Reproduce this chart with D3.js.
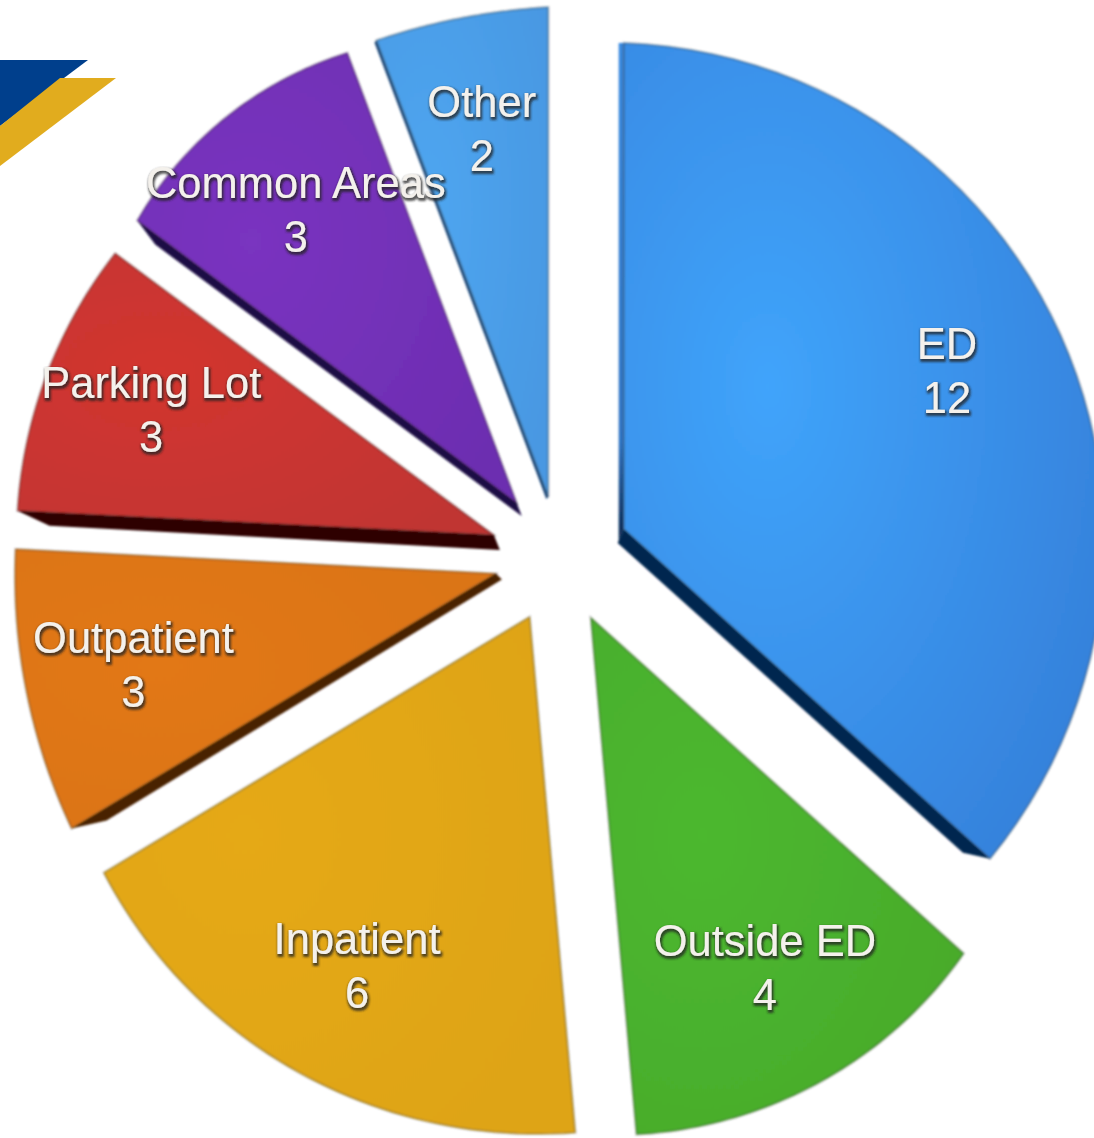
<html>
<head>
  <style>
    html,body{margin:0;padding:0;background:#fff;overflow:hidden}
    .label text{fill:#f4f1ec;font-family:'Liberation Sans',Arial,sans-serif;font-size:43.5px;text-anchor:middle}
    .face{stroke:#000;stroke-opacity:.3;stroke-width:2px}
  </style>
</head>
<body>
<div id="pie"></div>
<script src="https://d3js.org/d3.v7.min.js"></script>
<script>
// chart data
var categories = ['ED', 'Outside ED', 'Inpatient', 'Outpatient', 'Parking Lot', 'Common Areas', 'Other'];
var counts     = [12, 4, 6, 3, 3, 3, 2];

// slice colours: bright middle, edge
var inner = ['#40a4fb', '#4cb82e', '#e5a912', '#e27812', '#d2362f', '#7a34c0', '#4fa6f0'];
var outer = ['#3580da', '#49aa2c', '#dea416', '#da7414', '#c03432', '#6c2db0', '#4898e2'];

// each slice is pulled out a bit differently in the picture
var explode = [70, 67, 66, 66, 70, 70, 62];
// the source is drawn in perspective, so radius changes along the rim: start, middle, end
var rimStart = [486, 502, 518, 495, 477, 473, 488];
var rimMid   = [478, 518, 511, 484, 475, 483, 487];
var rimEnd   = [493, 519, 497, 481, 472, 481, 490];
// perspective also shifts the boundaries between slices, degrees
var boundaryShift = [0, 1.1, 0.4, -1, 0.2, 1.2, 1.2, 0];
var labelR   = [362, 391, 390, 375, 370, 380, 378];
var labelNudge = [[-6, -11], [-5, 0], [6, 0], [2, 0], [7, -7], [14, 3], [5, 0]];

// visible sides of the slices
var sides = [
  {slice: 0, edge: 'end',   tip: [-6, 14], rim: [-27, -6], fill: '#06264f'},
  {slice: 0, edge: 'start', tip: [-5, 12], rim: [-5, 0],   fill: 'url(#edLeft)'},
  {slice: 3, edge: 'start', tip: [6, 6],   rim: [35, -8],  fill: '#4a2206'},
  {slice: 4, edge: 'start', tip: [6, 15],  rim: [32, 15],  fill: '#2e0404'},
  {slice: 5, edge: 'start', tip: [5, 13],  rim: [18, 24],  fill: '#1d0a45'},
  {slice: 6, edge: 'start', tip: [-2, 2],  rim: [-2, 2],   fill: '#1f4c80'}
];

var width = 1094, height = 1138, cx = 560, cy = 558;

var svg = d3.select('#pie').append('svg')
  .attr('width', width)
  .attr('height', height);

var defs = svg.append('defs');

defs.append('filter').attr('id', 'soft')
  .append('feGaussianBlur').attr('stdDeviation', 0.9);

// pale letters with a dark halo and a shadow below
var shadow = defs.append('filter').attr('id', 'textShadow')
  .attr('x', '-10%').attr('y', '-15%').attr('width', '120%').attr('height', '135%');
shadow.append('feMorphology').attr('in', 'SourceAlpha').attr('operator', 'dilate').attr('radius', 0.8).attr('result', 'd');
shadow.append('feGaussianBlur').attr('in', 'd').attr('stdDeviation', 1).attr('result', 'b');
shadow.append('feOffset').attr('in', 'b').attr('dx', 1).attr('dy', 1.5).attr('result', 'o');
shadow.append('feFlood').attr('flood-color', '#222').attr('flood-opacity', 0.75);
shadow.append('feComposite').attr('in2', 'o').attr('operator', 'in').attr('result', 's');
var merge = shadow.append('feMerge');
merge.append('feMergeNode').attr('in', 's');
merge.append('feMergeNode').attr('in', 'SourceGraphic');

categories.forEach(function (c, i) {
  var g = defs.append('radialGradient')
    .attr('id', 'grad' + i)
    .attr('cx', 0.3).attr('cy', 0.42).attr('r', 0.8);
  g.append('stop').attr('offset', '0%').attr('stop-color', inner[i]);
  g.append('stop').attr('offset', '100%').attr('stop-color', outer[i]);
});

var edLeft = defs.append('linearGradient').attr('id', 'edLeft')
  .attr('x1', 0).attr('y1', 0).attr('x2', 0).attr('y2', 1);
edLeft.append('stop').attr('offset', '0%').attr('stop-color', '#3a8ae0');
edLeft.append('stop').attr('offset', '80%').attr('stop-color', '#2f74c4');
edLeft.append('stop').attr('offset', '100%').attr('stop-color', '#06264f');

// logo corner
var logoLine = d3.line();
svg.append('path')
  .attr('d', logoLine([[0, 60], [88, 60], [0, 126]]) + 'Z')
  .attr('fill', '#003f8c');
svg.append('path')
  .attr('d', logoLine([[0, 126], [60, 78], [116, 78], [0, 166]]) + 'Z')
  .attr('fill', '#e1ac1e');

var pie = d3.pie().sort(null)(counts);

function polar(a, r) {
  return [r * Math.sin(a), -r * Math.cos(a)];
}

function midAngle(d) {
  return (d.startAngle + d.endAngle) / 2;
}

function startOf(d) {
  return d.startAngle + boundaryShift[d.index] * Math.PI / 180;
}

function endOf(d) {
  return d.endAngle + boundaryShift[d.index + 1] * Math.PI / 180;
}

function tipOf(d) {
  var p = polar(midAngle(d), explode[d.index]);
  return 'translate(' + (cx + p[0]) + ',' + (cy + p[1]) + ')';
}

// radius along the rim, t goes 0..1 from start to end angle
function rimAt(i, t) {
  return rimStart[i] * (1 - t) * (1 - 2 * t) +
         rimMid[i] * 4 * t * (1 - t) +
         rimEnd[i] * t * (2 * t - 1);
}

var rimLine = d3.lineRadial()
  .angle(function (p) { return p[0]; })
  .radius(function (p) { return p[1]; })
  .curve(d3.curveLinear);

function facePath(d) {
  var i = d.index,
      a0 = startOf(d),
      a1 = endOf(d),
      pts = d3.range(0, 1.001, 0.02).map(function (t) {
        return [a0 + t * (a1 - a0), rimAt(i, t)];
      });
  return rimLine([[a0, 0]].concat(pts)) + 'Z';
}

var layer = svg.append('g').attr('filter', 'url(#soft)');

// dark sides first so the faces sit over them
layer.selectAll('path.side')
  .data(sides)
  .join('path')
  .attr('class', 'side')
  .attr('transform', function (s) { return tipOf(pie[s.slice]); })
  .attr('fill', function (s) { return s.fill; })
  .attr('d', function (s) {
    var d = pie[s.slice],
        isStart = s.edge === 'start',
        r = polar(isStart ? startOf(d) : endOf(d), rimAt(s.slice, isStart ? 0 : 1));
    return logoLine([[0, 0], r, [r[0] + s.rim[0], r[1] + s.rim[1]], s.tip]) + 'Z';
  });

layer.selectAll('path.face')
  .data(pie)
  .join('path')
  .attr('class', 'face')
  .attr('transform', tipOf)
  .attr('fill', function (d) { return 'url(#grad' + d.index + ')'; })
  .attr('d', facePath);

// labels go on top of every slice, Common Areas runs over its neighbour
var labels = svg.append('g')
  .selectAll('g')
  .data(pie)
  .join('g')
  .attr('class', 'label')
  .attr('filter', 'url(#textShadow)')
  .attr('transform', function (d) {
    var i = d.index,
        a = midAngle(d),
        e = polar(a, explode[i]),
        p = polar(a, labelR[i]);
    return 'translate(' + (cx + e[0] + p[0] + labelNudge[i][0]) + ',' + (cy + e[1] + p[1] + labelNudge[i][1]) + ')';
  });

labels.append('text')
  .attr('y', -9)
  .text(function (d) { return categories[d.index]; });

labels.append('text')
  .attr('y', 45)
  .text(function (d) { return d.value; });
</script>
</body>
</html>
